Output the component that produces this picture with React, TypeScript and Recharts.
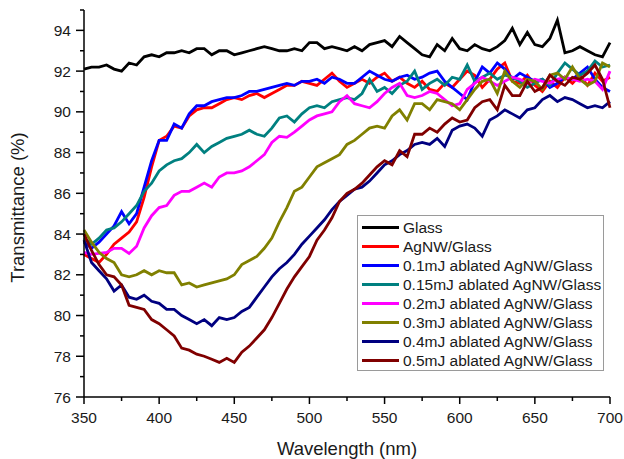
import React from "react";
import { LineChart, Line, XAxis, YAxis } from "recharts";

const wavelengths = [
  350, 355, 360, 365, 370, 375, 380, 385, 390, 395, 400, 405, 410, 415, 420, 425, 430, 435, 440, 445,
  450, 455, 460, 465, 470, 475, 480, 485, 490, 495, 500, 505, 510, 515, 520, 525, 530, 535, 540, 545,
  550, 555, 560, 565, 570, 575, 580, 585, 590, 595, 600, 605, 610, 615, 620, 625, 630, 635, 640, 645,
  650, 655, 660, 665, 670, 675, 680, 685, 690, 695, 700,
];

const glass = [
  92.1, 92.2, 92.2, 92.3, 92.1, 92.0, 92.4, 92.3, 92.7, 92.8, 92.7, 92.9, 92.9, 93.0, 92.9, 93.1, 93.1, 92.8, 93.0, 93.0,
  92.8, 92.9, 93.0, 93.1, 93.2, 93.1, 93.0, 93.0, 93.1, 93.0, 93.4, 93.4, 93.1, 93.2, 93.1, 93.0, 93.2, 93.0, 93.3, 93.4,
  93.5, 93.2, 93.7, 93.4, 93.1, 92.8, 92.7, 93.3, 93.0, 93.6, 93.1, 93.0, 93.3, 93.1, 93.0, 93.2, 93.5, 94.1, 93.3, 93.9,
  93.3, 93.2, 93.6, 94.5, 92.9, 93.0, 93.2, 93.0, 92.8, 92.7, 93.4,
];

const agnw = [
  83.0, 82.8, 82.6, 83.0, 83.5, 83.8, 84.1, 84.6, 85.8, 87.3, 88.6, 88.8, 89.3, 89.2, 89.8, 90.1, 90.2, 90.2, 90.4, 90.6,
  90.7, 90.6, 90.8, 90.9, 90.7, 90.9, 91.1, 91.3, 91.3, 91.5, 91.4, 91.3, 91.6, 91.9, 91.5, 91.2, 91.4, 91.6, 91.4, 91.7,
  91.9, 91.5, 91.7, 91.4, 91.2, 91.5, 91.1, 91.0, 91.4, 91.2, 91.6, 92.0, 91.8, 91.2, 91.6, 92.1, 92.4, 91.5, 91.4, 91.8,
  91.3, 91.0, 91.5, 91.2, 91.7, 91.4, 91.8, 91.3, 91.9, 91.5, 91.7,
];

const mj01 = [
  83.6, 83.3, 83.6, 84.0, 84.4, 85.1, 84.5, 85.0, 86.3, 87.6, 88.6, 88.6, 89.4, 89.2, 89.9, 90.3, 90.3, 90.5, 90.6, 90.7,
  90.7, 90.8, 91.0, 91.0, 91.1, 91.2, 91.3, 91.4, 91.3, 91.5, 91.5, 91.6, 91.4, 91.7, 91.6, 91.4, 91.4, 91.7, 92.0, 91.8,
  91.6, 91.5, 91.7, 91.8, 91.6, 91.7, 91.9, 92.0, 91.5, 91.2, 90.9, 90.6, 91.5, 92.2, 91.9, 92.4, 92.1, 91.6, 91.9, 91.7,
  91.5, 91.6, 91.2, 91.4, 91.7, 91.6, 91.9, 92.2, 91.6, 91.2, 91.0,
];

const mj015 = [
  83.8, 83.5, 83.8, 84.2, 84.3, 84.6, 85.0, 85.4, 86.1, 86.5, 87.1, 87.4, 87.6, 87.7, 88.0, 88.4, 88.0, 88.3, 88.5, 88.7,
  88.8, 88.9, 89.1, 88.9, 88.8, 89.2, 89.7, 89.8, 89.5, 89.9, 90.2, 90.3, 90.2, 90.5, 90.6, 90.7, 90.6, 90.9, 91.6, 91.0,
  91.2, 90.9, 91.3, 91.5, 92.0, 91.1, 91.4, 91.6, 91.3, 91.7, 91.6, 92.3, 91.5, 91.7, 91.9, 91.6, 91.8, 91.7, 91.5, 91.2,
  91.4, 91.6, 91.3, 91.9, 92.4, 92.1, 91.8, 92.0, 92.5, 92.2, 92.3,
];

const mj02 = [
  83.1, 83.0, 83.05, 83.1, 83.3, 83.3, 83.05, 83.4, 84.3, 84.9, 85.3, 85.4, 85.9, 86.1, 86.1, 86.3, 86.5, 86.3, 86.8, 87.0,
  87.0, 87.1, 87.3, 87.6, 87.9, 88.5, 88.8, 88.75, 89.0, 89.3, 89.6, 89.8, 89.9, 90.0, 90.5, 90.8, 90.4, 90.3, 90.2, 90.5,
  90.9, 91.2, 91.4, 90.8, 90.7, 90.8, 91.0, 90.9, 90.6, 90.3, 90.4, 91.1, 91.4, 91.7, 91.5, 91.3, 91.5, 91.7, 91.6, 91.4,
  91.6, 91.5, 91.4, 91.6, 91.7, 91.6, 91.5, 91.6, 91.5, 91.1, 92.0,
];

const mj03 = [
  84.2, 83.6, 83.1, 82.8, 82.6, 82.0, 81.9, 82.0, 82.2, 82.0, 82.2, 82.1, 82.1, 81.5, 81.6, 81.4, 81.5, 81.6, 81.7, 81.8,
  82.0, 82.5, 82.7, 82.9, 83.3, 83.8, 84.6, 85.3, 86.1, 86.3, 86.8, 87.3, 87.5, 87.7, 87.9, 88.4, 88.6, 88.9, 89.2, 89.3,
  89.2, 89.8, 90.1, 89.6, 90.4, 90.4, 90.1, 90.6, 90.5, 90.4, 90.1, 90.6, 91.1, 91.5, 91.6, 90.9, 92.0, 91.5, 91.2, 91.6,
  91.5, 91.1, 91.8, 91.9, 91.6, 92.2, 91.6, 91.3, 91.5, 92.4, 92.2,
];

const mj04 = [
  83.7, 82.6, 82.2, 81.8, 81.2, 81.5, 80.9, 80.8, 81.0, 80.7, 80.6, 80.3, 80.3, 80.0, 79.8, 79.6, 79.8, 79.5, 79.9, 79.8,
  79.9, 80.2, 80.4, 80.9, 81.4, 81.9, 82.3, 82.6, 83.0, 83.5, 83.9, 84.3, 84.7, 85.2, 85.6, 85.9, 86.2, 86.3, 86.6, 87.0,
  87.4, 87.6, 87.9, 88.1, 88.4, 88.5, 88.4, 88.7, 88.3, 89.1, 89.3, 89.4, 89.2, 88.8, 89.6, 89.8, 90.1, 89.9, 89.7, 90.1,
  90.2, 90.6, 90.8, 90.5, 90.7, 90.6, 90.4, 90.2, 90.3, 90.2, 90.5,
];

const mj05 = [
  84.0, 83.2, 82.5, 82.0, 81.9, 81.5, 80.5, 80.4, 80.3, 79.8, 79.6, 79.3, 79.0, 78.4, 78.3, 78.1, 78.0, 77.85, 77.7, 77.9,
  77.7, 78.2, 78.5, 78.9, 79.3, 79.9, 80.6, 81.3, 81.9, 82.4, 82.9, 83.7, 84.2, 84.8, 85.6, 86.0, 86.2, 86.5, 86.9, 87.3,
  87.6, 87.4, 88.1, 87.8, 88.9, 88.9, 89.2, 89.0, 89.4, 89.7, 89.5, 89.6, 90.2, 90.5, 90.6, 90.1, 91.3, 90.8, 90.8, 91.5,
  91.0, 91.2, 91.8, 91.5, 91.3, 91.7, 91.6, 91.9, 92.3, 91.6, 90.2,
];

const seriesNames = [
  "Glass",
  "AgNW/Glass",
  "0.1mJ ablated AgNW/Glass",
  "0.15mJ ablated AgNW/Glass",
  "0.2mJ ablated AgNW/Glass",
  "0.3mJ ablated AgNW/Glass",
  "0.4mJ ablated AgNW/Glass",
  "0.5mJ ablated AgNW/Glass",
];
const seriesValues = [glass, agnw, mj01, mj015, mj02, mj03, mj04, mj05];
const seriesColors = ["#000000", "#ff0000", "#0000ff", "#008080", "#ff00ff", "#808000", "#000080", "#800000"];

const xTicks = [350, 375, 400, 425, 450, 475, 500, 525, 550, 575, 600, 625, 650, 675, 700];
const yTicks = [76, 77, 78, 79, 80, 81, 82, 83, 84, 85, 86, 87, 88, 89, 90, 91, 92, 93, 94, 95];

const keys = seriesNames.map((_, i) => `s${i}`);
const rows = wavelengths.map((w, i) => {
  const r: Record<string, number> = { wl: w };
  seriesValues.forEach((arr, k) => {
    r[keys[k]] = arr[i];
  });
  return r;
});

const FONT = "Arial, 'Liberation Sans', Helvetica, sans-serif";

const XTick = (props: any) => {
  const { x, y, payload } = props;
  const v = payload.value as number;
  const major = v % 50 === 0;
  return (
    <g>
      <line x1={x} y1={y} x2={x} y2={y + (major ? 7 : 4)} stroke="#000" strokeWidth={1.5} />
      {major && (
        <text x={x} y={y + 26} textAnchor="middle" fontSize={15.5} fontFamily={FONT} fill="#1a1a1a">
          {v}
        </text>
      )}
    </g>
  );
};

const YTick = (props: any) => {
  const { x, y, payload } = props;
  const v = payload.value as number;
  const major = v % 2 === 0;
  return (
    <g>
      <line x1={x - (major ? 8 : 4)} y1={y} x2={x} y2={y} stroke="#000" strokeWidth={1.5} />
      {major && (
        <text x={x - 13} y={y} dy="0.36em" textAnchor="end" fontSize={15.5} fontFamily={FONT} fill="#1a1a1a">
          {v}
        </text>
      )}
    </g>
  );
};

export default function App() {
  return (
    <div style={{ position: "absolute", left: 0, top: 0, width: 624, height: 459, background: "#fff" }}>
      <LineChart
        width={624}
        height={459}
        data={rows}
        margin={{ top: 10, right: 14, bottom: 0, left: 0 }}
      >
        <XAxis
          dataKey="wl"
          type="number"
          domain={[350, 700]}
          ticks={xTicks}
          interval={0}
          tickSize={0}
          tickMargin={0}
          tickLine={false}
          tick={<XTick />}
          height={62}
          axisLine={{ stroke: "#000", strokeWidth: 1.5 }}
          label={(p: any) => {
            const vb = p.viewBox || {};
            return (
              <text
                x={vb.x + vb.width / 2}
                y={vb.y + 58}
                textAnchor="middle"
                fontSize={18.5}
                fontFamily={FONT}
                fill="#1a1a1a"
              >
                Wavelength (nm)
              </text>
            );
          }}
        />
        <YAxis
          type="number"
          domain={[76, 95]}
          ticks={yTicks}
          interval={0}
          allowDataOverflow
          tickSize={0}
          tickMargin={0}
          tickLine={false}
          tick={<YTick />}
          width={84}
          axisLine={{ stroke: "#000", strokeWidth: 1.5 }}
          label={(p: any) => {
            const vb = p.viewBox || {};
            const cy = vb.y + vb.height / 2 + 4;
            return (
              <text
                x={24}
                y={cy}
                transform={`rotate(-90, 24, ${cy})`}
                textAnchor="middle"
                fontSize={18.5}
                fontFamily={FONT}
                fill="#1a1a1a"
              >
                Transmittance (%)
              </text>
            );
          }}
        />
        {keys.map((k, i) => (
          <Line
            key={k}
            dataKey={k}
            name={seriesNames[i]}
            type="linear"
            stroke={seriesColors[i]}
            strokeWidth={2.8}
            dot={false}
            activeDot={false}
            isAnimationActive={false}
          />
        ))}
      </LineChart>
      <div
        style={{
          position: "absolute",
          left: 357,
          top: 215,
          width: 245,
          height: 152,
          border: "1px solid #9a9a9a",
          background: "#fff",
          boxSizing: "content-box",
          paddingTop: 2,
          fontFamily: FONT,
          fontSize: 15.5,
          color: "#1a1a1a",
        }}
      >
        {seriesNames.map((n, i) => (
          <div key={n} style={{ height: 19, display: "flex", alignItems: "center", whiteSpace: "nowrap" }}>
            <svg width={42} height={19} style={{ flex: "none" }}>
              <line x1={4} y1={9.5} x2={41} y2={9.5} stroke={seriesColors[i]} strokeWidth={3} />
            </svg>
            <span style={{ marginLeft: 3, lineHeight: "19px" }}>{n}</span>
          </div>
        ))}
      </div>
    </div>
  );
}
